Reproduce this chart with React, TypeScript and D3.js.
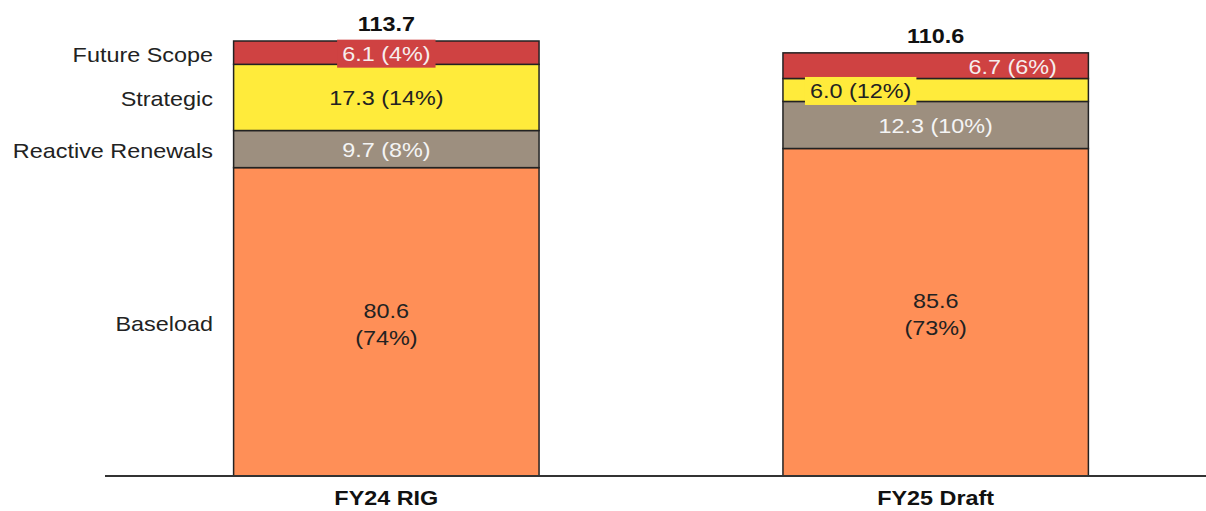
import React from "react";
import * as d3 from "d3";

const categories = ["FY24 RIG", "FY25 Draft"];
const seriesNames = ["Baseload", "Reactive Renewals", "Strategic", "Future Scope"];
const baseload = [80.6, 85.6];
const reactiveRenewals = [9.7, 12.3];
const strategic = [17.3, 6.0];
const futureScope = [6.1, 6.7];
const baseloadPct = [74, 73];
const reactivePct = [8, 10];
const strategicPct = [14, 12];
const futurePct = [4, 6];
const totals = [113.7, 110.6];

const seriesValues = [baseload, reactiveRenewals, strategic, futureScope];
const seriesPct = [baseloadPct, reactivePct, strategicPct, futurePct];

// styles
const fills = ["#ff8f57", "#9d8f7f", "#ffeb3b", "#cf4242"];
const textColors = ["#222222", "#f4f4f4", "#222222", "#f6eeee"];
// label placement tweaks per [series][category]: dx offset, boxed
const labelDx = [
  [0, 0],
  [0, 0],
  [0, -75],
  [0, 77],
];
const labelBoxed = [
  [false, false],
  [false, false],
  [false, true],
  [true, false],
];

const W = 1206;
const H = 511;
const FONT = "'Liberation Sans', Arial, sans-serif";
const FS = 20;
const SX = 1.17;

function measure(text: string, size: number, weight = "normal") {
  const c = document.createElement("canvas");
  const ctx = c.getContext("2d");
  if (!ctx) return text.length * size * 0.55;
  ctx.font = `${weight} ${size}px ${FONT}`;
  return ctx.measureText(text).width;
}

function Txt(props: {
  x: number;
  y: number;
  text: string;
  anchor?: string;
  fill?: string;
  weight?: string;
  size?: number;
}) {
  const { x, y, text, anchor = "middle", fill = "#222", weight = "normal", size = FS } = props;
  return (
    <g transform={`translate(${x},${y}) scale(${SX},1)`}>
      <text
        x={0}
        y={0}
        textAnchor={anchor}
        dominantBaseline="central"
        fontFamily={FONT}
        fontSize={size}
        fontWeight={weight}
        fill={fill}
      >
        {text}
      </text>
    </g>
  );
}

export default function App() {
  const x = d3
    .scaleBand<string>()
    .domain(categories)
    .range([110, 1212])
    .paddingInner(0.444)
    .paddingOuter(0.225);
  const y = d3
    .scaleLinear()
    .domain([0, d3.max(totals) as number])
    .range([476, 41]);

  const rows = categories.map((c, i) => {
    const r: any = { cat: c };
    seriesNames.forEach((s, k) => (r[s] = seriesValues[k][i]));
    return r;
  });
  const stack = d3.stack<any>().keys(seriesNames)(rows);

  const bw = x.bandwidth();

  return (
    <svg
      width={W}
      height={H}
      style={{ position: "absolute", left: 0, top: 0, background: "#fff" }}
    >
      {/* segments */}
      {stack.map((layer, k) => (
        <g key={seriesNames[k]}>
          {layer.map((d, i) => (
            <rect
              key={i}
              x={x(categories[i])!}
              y={y(d[1])}
              width={bw}
              height={y(d[0]) - y(d[1])}
              fill={fills[k]}
              stroke="#222"
              strokeWidth={1.5}
            />
          ))}
        </g>
      ))}

      {/* segment labels */}
      {stack.map((layer, k) =>
        layer.map((d, i) => {
          const cx = x(categories[i])! + bw / 2 + labelDx[k][i];
          const cy = (y(d[0]) + y(d[1])) / 2 + 1;
          const val = seriesValues[k][i].toFixed(1);
          const pct = `(${seriesPct[k][i]}%)`;
          if (k === 0) {
            return (
              <g key={`l${k}${i}`}>
                <Txt x={cx} y={cy - 12} text={val} fill={textColors[k]} />
                <Txt x={cx} y={cy + 15} text={pct} fill={textColors[k]} />
              </g>
            );
          }
          const label = `${val} ${pct}`;
          const tw = measure(label, FS) * SX;
          return (
            <g key={`l${k}${i}`}>
              {labelBoxed[k][i] && (
                <rect
                  x={cx - tw / 2 - 5}
                  y={cy - 14}
                  width={tw + 10}
                  height={28}
                  fill={fills[k]}
                />
              )}
              <Txt x={cx} y={cy} text={label} fill={textColors[k]} />
            </g>
          );
        })
      )}

      {/* totals */}
      {categories.map((c, i) => (
        <Txt
          key={`t${i}`}
          x={x(c)! + bw / 2}
          y={y(totals[i]) - 17}
          text={totals[i].toFixed(1)}
          weight="bold"
          fill="#111"
        />
      ))}

      {/* left legend labels, aligned to first bar segments */}
      {stack.map((layer, k) => {
        const d = layer[0];
        const cy = (y(d[0]) + y(d[1])) / 2 + 2;
        return (
          <Txt key={`n${k}`} x={213} y={cy} text={seriesNames[k]} anchor="end" fill="#222" />
        );
      })}

      {/* axis */}
      <line x1={105} x2={W} y1={476} y2={476} stroke="#333" strokeWidth={2} />
      {categories.map((c) => (
        <Txt
          key={`c${c}`}
          x={x(c)! + bw / 2}
          y={498}
          text={c}
          weight="bold"
          fill="#111"
          size={20}
        />
      ))}
    </svg>
  );
}
